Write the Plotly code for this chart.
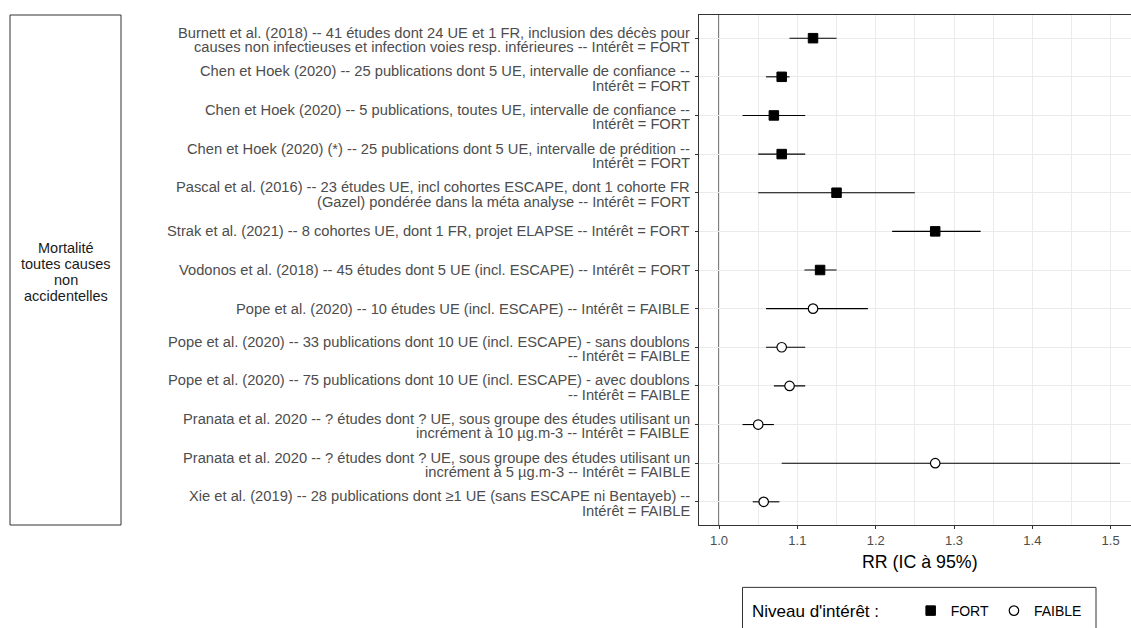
import plotly.graph_objects as go

# ---------------- data ----------------
labels = [
    "Burnett et al. (2018) -- 41 études dont 24 UE et 1 FR, inclusion des décès pour\ncauses non infectieuses et infection voies resp. inférieures -- Intérêt = FORT",
    "Chen et Hoek (2020) -- 25 publications dont 5 UE, intervalle de confiance --\nIntérêt = FORT",
    "Chen et Hoek (2020) -- 5 publications, toutes UE, intervalle de confiance --\nIntérêt = FORT",
    "Chen et Hoek (2020) (*) -- 25 publications dont 5 UE, intervalle de prédition --\nIntérêt = FORT",
    "Pascal et al. (2016) -- 23 études UE, incl cohortes ESCAPE, dont 1 cohorte FR\n(Gazel) pondérée dans la méta analyse -- Intérêt = FORT",
    "Strak et al. (2021) -- 8 cohortes UE, dont 1 FR, projet ELAPSE -- Intérêt = FORT",
    "Vodonos et al. (2018) -- 45 études dont 5 UE (incl. ESCAPE) -- Intérêt = FORT",
    "Pope et al. (2020) -- 10 études UE (incl. ESCAPE) -- Intérêt = FAIBLE",
    "Pope et al. (2020) -- 33 publications dont 10 UE (incl. ESCAPE) - sans doublons\n-- Intérêt = FAIBLE",
    "Pope et al. (2020) -- 75 publications dont 10 UE (incl. ESCAPE) - avec doublons\n-- Intérêt = FAIBLE",
    "Pranata et al. 2020 -- ? études dont ? UE, sous groupe des études utilisant un\nincrément à 10 µg.m-3 -- Intérêt = FAIBLE",
    "Pranata et al. 2020 -- ? études dont ? UE, sous groupe des études utilisant un\nincrément à 5 µg.m-3 -- Intérêt = FAIBLE",
    "Xie et al. (2019) -- 28 publications dont ≥1 UE (sans ESCAPE ni Bentayeb) --\nIntérêt = FAIBLE",
]
rr    = [1.12, 1.08, 1.07, 1.08, 1.15, 1.276, 1.129, 1.12, 1.08, 1.09, 1.05, 1.276, 1.057]
ci_lo = [1.09, 1.06, 1.03, 1.05, 1.05, 1.221, 1.109, 1.06, 1.06, 1.07, 1.03, 1.08, 1.043]
ci_hi = [1.15, 1.09, 1.11, 1.11, 1.25, 1.334, 1.150, 1.19, 1.11, 1.11, 1.07, 1.512, 1.077]
interet = ["FORT"] * 7 + ["FAIBLE"] * 6
levels = ["FORT", "FAIBLE"]
strip_lines = ["Mortalité", "toutes causes", "non", "accidentelles"]
x_ticks = [1.0, 1.1, 1.2, 1.3, 1.4, 1.5]
x_title = "RR (IC à 95%)"
legend_title = "Niveau d'intérêt :"

# ---------------- layout helpers ----------------
W, H = 1131, 628
L, R, T, B = 699, 0, 15, 102
PW, PH = W - L - R, H - T - B
FONT = "Liberation Sans, Arial, sans-serif"


def px_x(p):
    return (p - L) / PW


def px_y(p):
    return (H - B - p) / PH


styles = {
    "FORT": dict(symbol="square", size=9.5, color="black", line=dict(color="black", width=1)),
    "FAIBLE": dict(symbol="circle", size=9.5, color="white", line=dict(color="black", width=1.2)),
}

fig = go.Figure()
for lev in levels:
    idx = [i for i, v in enumerate(interet) if v == lev]
    fig.add_trace(go.Scatter(
        x=[rr[i] for i in idx],
        y=[labels[i] for i in idx],
        mode="markers",
        name=lev,
        marker=styles[lev],
        error_x=dict(
            type="data", symmetric=False,
            array=[ci_hi[i] - rr[i] for i in idx],
            arrayminus=[rr[i] - ci_lo[i] for i in idx],
            width=0, thickness=1.1, color="black",
        ),
        cliponaxis=False,
    ))

fig.add_vline(x=1.0, line=dict(color="black", width=1.1), layer="below")

# y tick labels (two-line labels with ggplot-like tight line spacing)
for lab in labels:
    parts = lab.split("\n")
    shifts = [0] if len(parts) == 1 else [5.5, -8.8]
    for part, ys in zip(parts, shifts):
        fig.add_annotation(xref="paper", yref="y", x=px_x(692), y=lab,
                           xanchor="right", yanchor="middle", yshift=ys,
                           text=part, showarrow=False,
                           font=dict(family=FONT, size=14.7, color="#4d4d4d"))

# strip (facet label on the left)
fig.add_shape(type="rect", xref="paper", yref="paper",
              x0=px_x(10), x1=px_x(121), y0=0, y1=1,
              line=dict(color="#333333", width=1), fillcolor="white")
strip_shifts = [22, 6.1, -9.8, -25.7]
for line, ys in zip(strip_lines, strip_shifts):
    fig.add_annotation(xref="paper", yref="paper", x=px_x(65.5), y=0.5,
                       xanchor="center", yanchor="middle", yshift=ys,
                       text=line, showarrow=False,
                       font=dict(family=FONT, size=14.5, color="#1a1a1a"))

# x-axis title (panel continues slightly beyond the window, so centre it explicitly)
fig.add_annotation(xref="paper", yref="paper", x=px_x(919.5), y=px_y(562.7),
                   xanchor="center", yanchor="middle", text=x_title, showarrow=False,
                   font=dict(family=FONT, size=17.8, color="black"))

# legend frame
fig.add_shape(type="rect", xref="paper", yref="paper",
              x0=px_x(742.5), x1=px_x(1096), y0=px_y(588.5), y1=px_y(645),
              line=dict(color="#333333", width=1), fillcolor="white")

fig.update_layout(
    width=W, height=H,
    margin=dict(l=L, r=R, t=T, b=B, pad=0),
    paper_bgcolor="white", plot_bgcolor="white",
    font=dict(family=FONT, size=13, color="#4d4d4d"),
    showlegend=True,
    legend=dict(
        orientation="h", x=px_x(750), y=px_y(613), xanchor="left", yanchor="middle",
        title=dict(text=legend_title + "\u00a0" * 5, side="left",
                   font=dict(size=17, color="black")),
        font=dict(size=14, color="black"),
        bgcolor="rgba(0,0,0,0)", borderwidth=0,
        itemclick=False, itemdoubleclick=False,
    ),
    xaxis=dict(
        range=[0.9744, 1.526],
        tickvals=x_ticks, ticktext=[f"{v:.1f}" for v in x_ticks],
        showgrid=True, gridcolor="#ebebeb", gridwidth=1,
        minor=dict(dtick=0.05, tick0=1.0, showgrid=True, gridcolor="#ebebeb", gridwidth=0.6),
        zeroline=False,
        showline=True, linecolor="#333333", linewidth=1, mirror=True,
        ticks="outside", ticklen=3, tickcolor="#333333",
        tickfont=dict(size=13, color="#4d4d4d"),
    ),
    yaxis=dict(
        type="category", categoryorder="array", categoryarray=labels,
        range=[12.6, -0.6],
        showgrid=True, gridcolor="#ebebeb", gridwidth=1,
        zeroline=False,
        showline=True, linecolor="#333333", linewidth=1,
        ticks="outside", ticklen=3, tickcolor="#333333",
        showticklabels=False,
    ),
)

fig.write_html("out.html")
